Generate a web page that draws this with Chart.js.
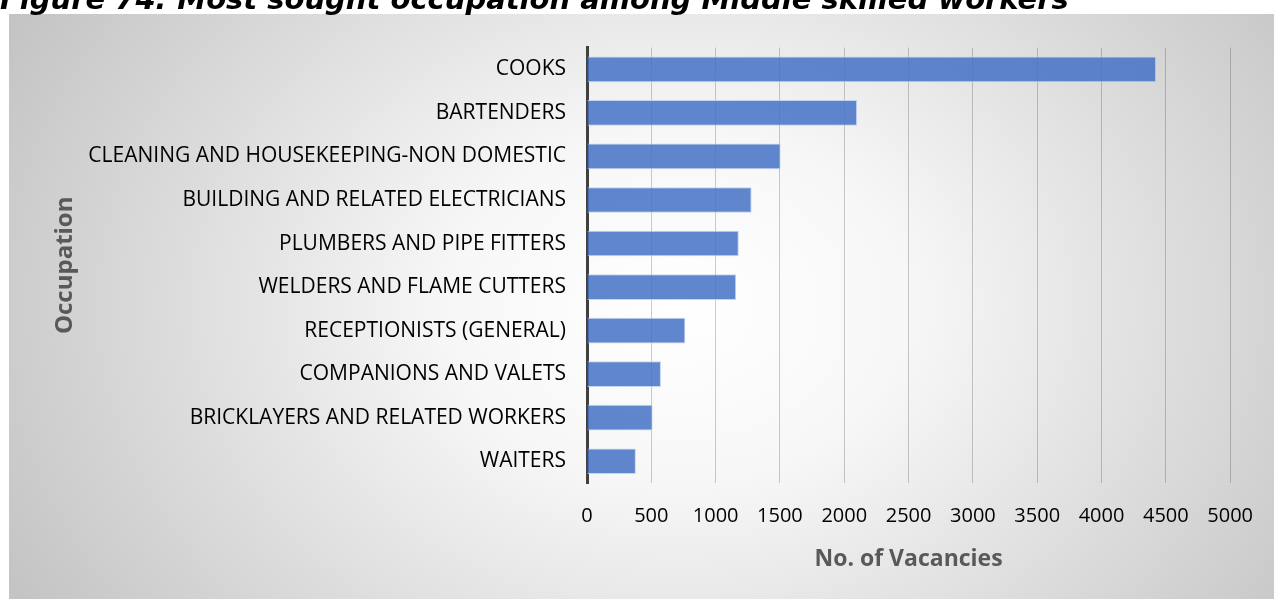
<!DOCTYPE html>
<html>
<head>
<meta charset="utf-8">
<script src="https://cdn.jsdelivr.net/npm/chart.js@4.4.0/dist/chart.umd.min.js"></script>
<style>
  body { margin: 0; background: #fff; width: 1274px; height: 599px; overflow: hidden; position: relative; }
  #title { position: absolute; left: 0; top: -15px; font: italic bold 29px "DejaVu Sans"; line-height: 29px; color: #000; white-space: nowrap; }
  #box { position: absolute; left: 9px; top: 14px; width: 1265px; height: 585px;
    background: radial-gradient(ellipse 60% 100% at 53% 50%, #ffffff 0%, #f7f7f7 30%, #c4c4c4 100%); }
</style>
</head>
<body>
<div id="box"><canvas id="chart1" width="1265" height="585"></canvas></div>
<div id="title">Figure 74: Most sought occupation among Middle skilled workers</div>
<script>
// occupations, top to bottom
const occupations = [
  'COOKS',
  'BARTENDERS',
  'CLEANING AND HOUSEKEEPING-NON DOMESTIC',
  'BUILDING AND RELATED ELECTRICIANS',
  'PLUMBERS AND PIPE FITTERS',
  'WELDERS AND FLAME CUTTERS',
  'RECEPTIONISTS (GENERAL)',
  'COMPANIONS AND VALETS',
  'BRICKLAYERS AND RELATED WORKERS',
  'WAITERS'
];
const vacancies = [4425, 2100, 1505, 1280, 1180, 1160, 765, 575, 510, 380];
const xTicks = [0, 500, 1000, 1500, 2000, 2500, 3000, 3500, 4000, 4500, 5000];

const data = {
  labels: occupations,
  datasets: [{
    label: 'No. of Vacancies',
    data: vacancies,
    backgroundColor: 'rgba(68, 114, 196, 0.85)',
    borderColor: 'rgba(190, 208, 238, 0.9)',
    borderWidth: 1,
    barPercentage: 0.59,
    categoryPercentage: 1
  }]
};

const config = {
  type: 'bar',
  data: data,
  options: {
    indexAxis: 'y',
    responsive: false,
    animation: false,
    layout: { padding: { top: 29, right: 42, left: 0, bottom: 0 } },
    plugins: { legend: { display: false }, tooltip: { enabled: false } },
    scales: {
      x: {
        min: xTicks[0],
        max: xTicks[xTicks.length - 1],
        afterBuildTicks: function(scale) { scale.ticks = xTicks.map(v => ({ value: v })); },
        afterFit: function(scale) { scale.height = 116; },
        grid: { color: 'rgba(0,0,0,0.2)', lineWidth: 1, drawTicks: false },
        border: { display: false },
        ticks: { color: '#000', font: { family: 'Open Sans', size: 20 }, padding: 21,
          callback: function(v) { return String(v); } },
        title: { display: true, text: 'No. of Vacancies', color: '#595959',
          font: { family: 'Open Sans', size: 23, weight: 'bold' }, padding: { top: 0, bottom: 26 } }
      },
      y: {
        afterFit: function(scale) { scale.width = 578; },
        grid: { display: false, drawTicks: false },
        border: { display: true, color: '#404040', width: 3 },
        ticks: { color: '#000', font: { family: 'Open Sans', size: 21 }, padding: 21, autoSkip: false },
        title: { display: true, text: 'Occupation', color: '#595959',
          font: { family: 'Open Sans', size: 24, weight: 'bold' }, padding: { top: 42, bottom: 0 } }
      }
    }
  }
};

const myChart = new Chart(document.getElementById('chart1'), config);
</script>
</body>
</html>
